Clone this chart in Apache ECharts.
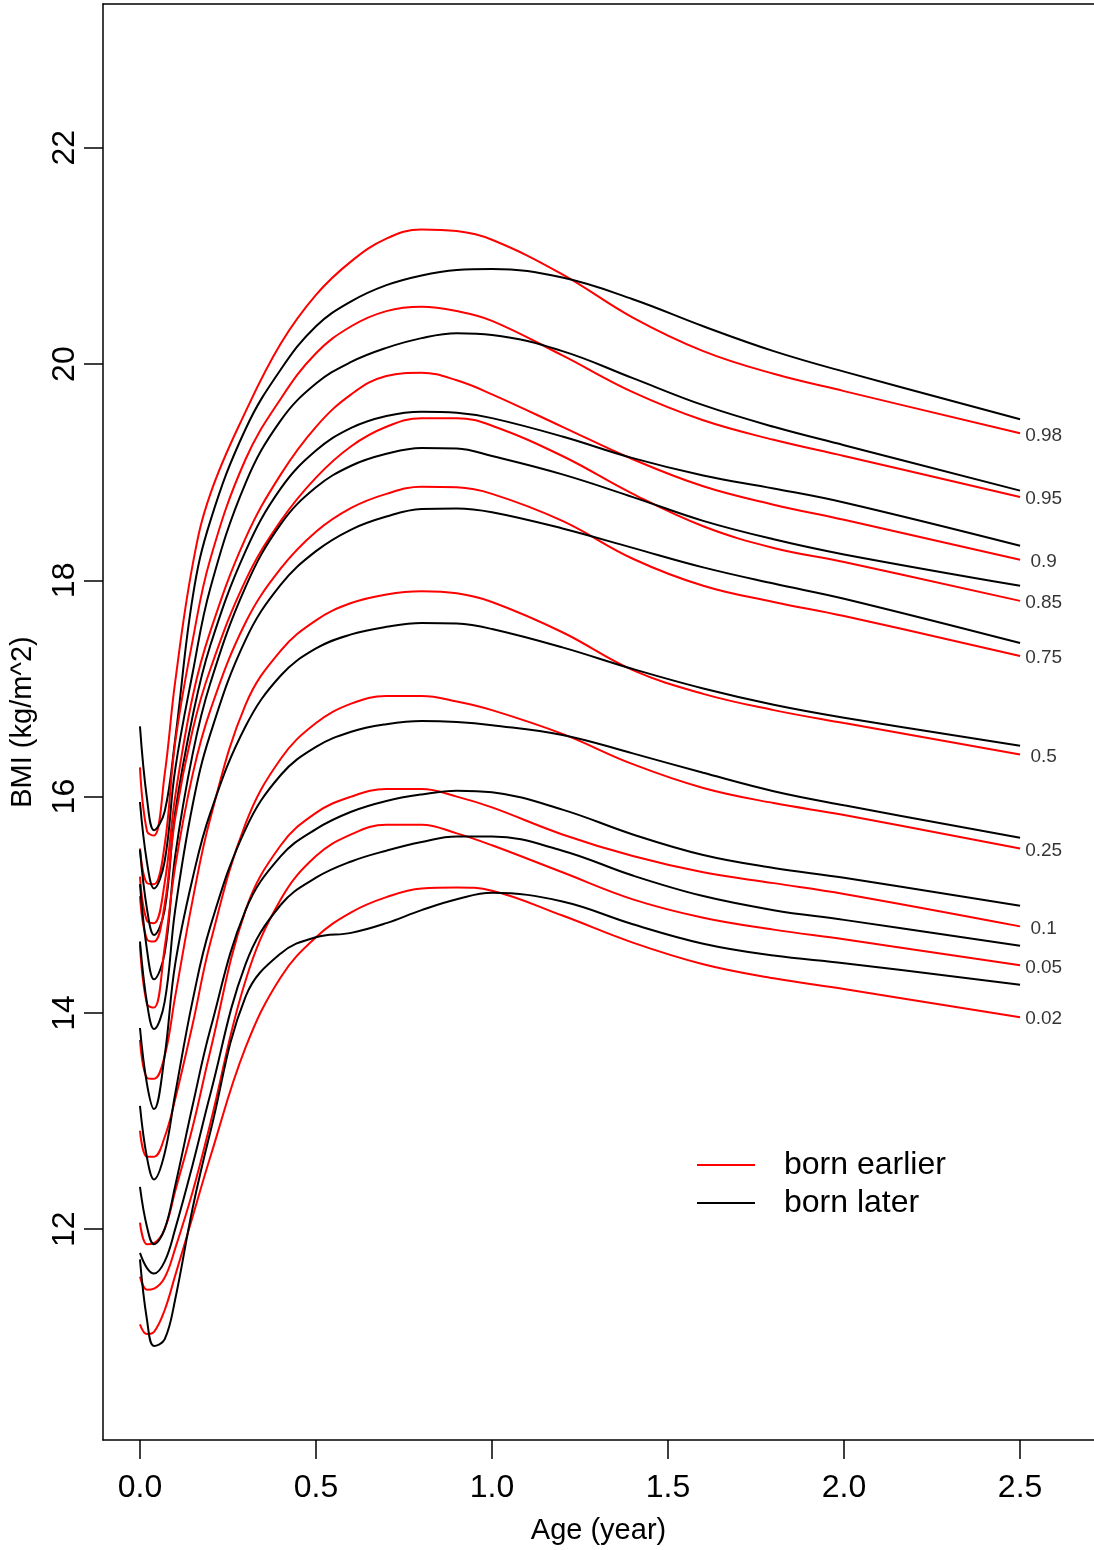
<!DOCTYPE html>
<html>
<head>
<meta charset="utf-8">
<script src="https://cdn.jsdelivr.net/npm/echarts@6/dist/echarts.min.js"></script>
<style>
html, body { margin: 0; padding: 0; background: #fff; }
#chart { width: 1094px; height: 1550px; }
</style>
</head>
<body>
<div id="chart"></div>
<script>
var myChart = echarts.init(document.getElementById('chart'));

// age grid (year)
var ages = [0, 0.02, 0.04, 0.07, 0.1, 0.15, 0.2, 0.3, 0.4, 0.5, 0.6, 0.7, 0.8, 0.9, 1.0, 1.2, 1.4, 1.6, 1.8, 2.0, 2.5];
var quantiles = ['0.98', '0.95', '0.9', '0.85', '0.75', '0.5', '0.25', '0.1', '0.05', '0.02'];
var xTicks = [0, 0.5, 1, 1.5, 2, 2.5];
var yTicks = [12, 14, 16, 18, 20, 22];

// BMI centiles, born earlier (red)
var bornEarlier = [
	[16.27, 15.68, 15.64, 16.2, 17.06, 18.15, 18.8, 19.56, 20.19, 20.64, 20.95, 21.16, 21.245, 21.23, 21.15, 20.83, 20.43, 20.12, 19.91, 19.75, 19.36],
	[15.52, 15.20, 15.19, 15.55, 16.5, 17.45, 18.2, 19.12, 19.68, 20.1, 20.35, 20.49, 20.53, 20.49, 20.40, 20.08, 19.74, 19.48, 19.3, 19.15, 18.77],
	[15.26, 14.85, 14.83, 15.2, 16.0, 16.93, 17.53, 18.39, 18.98, 19.42, 19.72, 19.89, 19.92, 19.85, 19.72, 19.42, 19.12, 18.87, 18.7, 18.56, 18.19],
	[15.08, 14.68, 14.66, 15.0, 15.8, 16.62, 17.18, 18.0, 18.55, 18.95, 19.24, 19.42, 19.50, 19.5, 19.43, 19.15, 18.8, 18.5, 18.3, 18.17, 17.81],
	[14.63, 14.08, 14.05, 14.6, 15.35, 16.21, 16.8, 17.61, 18.11, 18.45, 18.67, 18.8, 18.865, 18.86, 18.8, 18.55, 18.2, 17.95, 17.8, 17.67, 17.30],
	[13.75, 13.40, 13.39, 13.6, 14.15, 15.05, 15.8, 16.85, 17.35, 17.63, 17.79, 17.87, 17.9, 17.88, 17.8, 17.52, 17.17, 16.95, 16.8, 16.68, 16.39],
	[12.91, 12.67, 12.67, 12.85, 13.2, 13.9, 14.65, 15.75, 16.35, 16.68, 16.86, 16.93, 16.93, 16.88, 16.8, 16.58, 16.3, 16.08, 15.94, 15.83, 15.52],
	[12.06, 11.86, 11.87, 12.0, 12.35, 12.95, 13.65, 14.95, 15.55, 15.85, 16.0, 16.07, 16.07, 16.0, 15.9, 15.65, 15.45, 15.3, 15.2, 15.1, 14.80],
	[11.56, 11.44, 11.45, 11.55, 11.82, 12.35, 12.98, 14.3, 15.05, 15.45, 15.65, 15.74, 15.74, 15.66, 15.55, 15.3, 15.05, 14.88, 14.77, 14.68, 14.44],
	[11.12, 11.03, 11.05, 11.25, 11.57, 12.12, 12.67, 13.68, 14.33, 14.7, 14.93, 15.07, 15.15, 15.16, 15.13, 14.9, 14.65, 14.45, 14.32, 14.22, 13.96]
];

// BMI centiles, born later (black)
var bornLater = [
	[16.65, 15.98, 15.69, 15.86, 16.53, 17.85, 18.55, 19.4, 19.95, 20.35, 20.58, 20.73, 20.82, 20.87, 20.88, 20.80, 20.60, 20.35, 20.12, 19.93, 19.49],
	[15.95, 15.39, 15.15, 15.4, 16.25, 17.15, 17.93, 18.9, 19.48, 19.82, 20.02, 20.15, 20.24, 20.285, 20.27, 20.12, 19.87, 19.62, 19.42, 19.25, 18.83],
	[15.51, 14.96, 14.72, 14.95, 15.85, 16.75, 17.4, 18.27, 18.85, 19.2, 19.41, 19.52, 19.56, 19.55, 19.5, 19.33, 19.13, 18.97, 18.85, 18.72, 18.32],
	[15.19, 14.58, 14.31, 14.55, 15.45, 16.4, 17.05, 17.94, 18.52, 18.86, 19.06, 19.17, 19.225, 19.22, 19.15, 18.98, 18.77, 18.55, 18.38, 18.24, 17.95],
	[14.66, 14.09, 13.85, 14.1, 14.95, 15.93, 16.58, 17.45, 17.96, 18.27, 18.47, 18.59, 18.66, 18.665, 18.63, 18.48, 18.3, 18.12, 17.97, 17.83, 17.42],
	[13.86, 13.34, 13.11, 13.6, 14.45, 15.25, 15.85, 16.65, 17.12, 17.37, 17.5, 17.57, 17.605, 17.6, 17.55, 17.38, 17.18, 17.0, 16.85, 16.73, 16.47],
	[13.14, 12.66, 12.46, 12.7, 13.25, 14.12, 14.8, 15.7, 16.2, 16.46, 16.6, 16.67, 16.7, 16.69, 16.66, 16.57, 16.4, 16.22, 16.05, 15.92, 15.62],
	[12.39, 12.02, 11.86, 12.0, 12.4, 13.15, 13.85, 14.95, 15.45, 15.7, 15.86, 15.96, 16.02, 16.055, 16.04, 15.88, 15.65, 15.46, 15.34, 15.25, 14.99],
	[11.78, 11.64, 11.59, 11.7, 12.0, 12.6, 13.25, 14.45, 15.0, 15.25, 15.4, 15.5, 15.58, 15.63, 15.63, 15.5, 15.27, 15.08, 14.95, 14.86, 14.62],
	[11.72, 11.16, 10.92, 10.98, 11.35, 12.2, 12.9, 14.15, 14.55, 14.7, 14.74, 14.83, 14.95, 15.05, 15.11, 15.03, 14.82, 14.64, 14.53, 14.46, 14.26]
];

var labelAge = 2.567;
var font = 'Liberation Sans, Arial, sans-serif';

function toPoints(values) {
	return ages.map(function (a, i) { return [a, values[i]]; });
}

function curve(name, color, values) {
	return {
		name: name,
		type: 'line',
		data: toPoints(values),
		smooth: 0.4,
		showSymbol: false,
		symbol: 'none',
		itemStyle: { color: color },
		lineStyle: { color: color, width: 2 },
		z: 2
	};
}

var series = [];
for (var i = 0; i < quantiles.length; i++) {
	series.push(curve('born earlier', '#ff0000', bornEarlier[i]));
	series.push(curve('born later', '#000000', bornLater[i]));
}

// quantile labels at the right end of the red curves
series.push({
	type: 'scatter',
	symbolSize: 1,
	itemStyle: { color: 'rgba(0,0,0,0)' },
	silent: true,
	data: quantiles.map(function (q, i) {
		return { name: q, value: [labelAge, bornEarlier[i][ages.length - 1]] };
	}),
	label: {
		show: true,
		position: 'inside',
		offset: [0, 2],
		formatter: '{b}',
		color: '#000',
		fontSize: 19,
		fontFamily: font
	}
});

var frame = { show: true, onZero: false, lineStyle: { color: '#000', width: 1.5 } };

option = {
	animation: false,
	backgroundColor: '#fff',
	grid: {
		left: 103,
		top: 4,
		right: 0,
		bottom: 107,
		show: false
	},
	legend: {
		orient: 'vertical',
		left: 692,
		top: 1144,
		itemWidth: 58,
		itemHeight: 2,
		itemGap: 6,
		data: [
			{ name: 'born earlier', icon: 'rect' },
			{ name: 'born later', icon: 'rect' }
		],
		textStyle: {
			fontSize: 32,
			lineHeight: 32,
			fontFamily: font,
			color: '#000',
			padding: [0, 0, 0, 24]
		}
	},
	xAxis: [{
		type: 'value',
		min: -0.105,
		max: 2.71,
		name: 'Age (year)',
		nameLocation: 'middle',
		nameGap: 76,
		nameTextStyle: { fontSize: 29, fontFamily: font, color: '#000' },
		splitLine: { show: false },
		axisLine: frame,
		axisTick: {
			show: true,
			length: 19,
			customValues: xTicks,
			lineStyle: { color: '#000', width: 1.5 }
		},
		axisLabel: {
			customValues: xTicks,
			margin: 32,
			fontSize: 32,
			fontFamily: font,
			color: '#000',
			formatter: function (v) { return v.toFixed(1); }
		}
	}, {
		// top edge of the box
		type: 'value',
		position: 'top',
		min: -0.105,
		max: 2.71,
		splitLine: { show: false },
		axisLine: frame,
		axisTick: { show: false },
		axisLabel: { show: false }
	}],
	yAxis: {
		type: 'value',
		min: 10.05,
		max: 23.33,
		name: 'BMI (kg/m^2)',
		nameLocation: 'middle',
		nameGap: 66,
		nameTextStyle: { fontSize: 29, fontFamily: font, color: '#000' },
		splitLine: { show: false },
		axisLine: frame,
		axisTick: {
			show: true,
			length: 19,
			customValues: yTicks,
			lineStyle: { color: '#000', width: 1.5 }
		},
		axisLabel: {
			customValues: yTicks,
			rotate: 90,
			margin: 22,
			fontSize: 32,
			fontFamily: font,
			color: '#000'
		}
	},
	series: series
};

myChart.setOption(option);
</script>
</body>
</html>
